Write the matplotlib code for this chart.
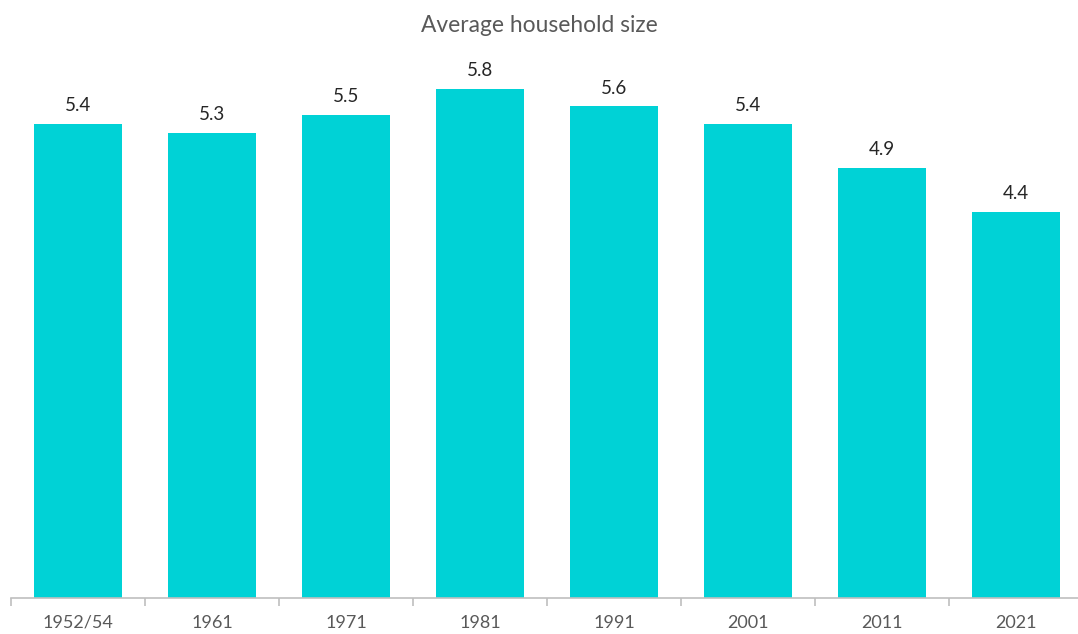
import matplotlib
matplotlib.use("Agg")
import matplotlib.pyplot as plt

categories = ["1952/54", "1961", "1971", "1981", "1991", "2001", "2011", "2021"]
household_size = [5.4, 5.3, 5.5, 5.8, 5.6, 5.4, 4.9, 4.4]

plt.rcParams["font.family"] = ["Lato", "DejaVu Sans"]

fig = plt.figure(figsize=(10.78, 6.34), dpi=100)
ax = fig.add_axes([11 / 1078, 36 / 634, 1072 / 1078, 570.7 / 634])

x = range(len(categories))
bars = ax.bar(x, household_size, width=0.66, color="#00D2D6", zorder=2)

for xi, v in zip(x, household_size):
    ax.annotate(f"{v:.1f}", (xi, v), xytext=(0, 7), textcoords="offset points",
                ha="center", va="bottom", fontsize=13.5, color="#262626")

ax.set_xlim(-0.5, len(categories) - 0.5)
ax.set_ylim(0, 6.5)
ax.set_yticks([])
for side in ("left", "right", "top"):
    ax.spines[side].set_visible(False)
ax.spines["bottom"].set_color("#BFBFBF")
ax.spines["bottom"].set_linewidth(1.2)

ax.set_xticks([i - 0.5 for i in range(len(categories) + 1)])
ax.set_xticklabels([])
ax.set_xticks(list(x), minor=True)
ax.set_xticklabels(categories, minor=True)
ax.tick_params(axis="x", which="major", length=6, width=1.2, color="#BFBFBF")
ax.tick_params(axis="x", which="minor", length=0, pad=12, labelsize=13, labelcolor="#595959")

fig.text(0.5, 1 - 25 / 634, "Average household size", ha="center", va="center",
         fontsize=16.4, color="#595959")

fig.savefig("out.png", dpi=100)
